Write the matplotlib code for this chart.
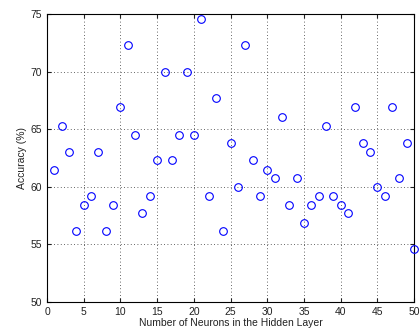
import numpy as np
import matplotlib.pyplot as plt

plt.rcParams['font.family'] = ['Liberation Sans', 'DejaVu Sans']

# liczba neuronow i dokladnosc
neurony = list(range(1, 51))
dokladnosc = [61.5, 65.3, 63.0, 56.2, 58.4, 59.2, 63.0, 56.2, 58.4, 66.9,
              72.3, 64.5, 57.7, 59.2, 62.3, 70.0, 62.3, 64.5, 70.0, 64.5,
              74.6, 59.2, 67.7, 56.2, 63.8, 60.0, 72.3, 62.3, 59.2, 61.5,
              60.8, 66.1, 58.4, 60.8, 56.9, 58.4, 59.2, 65.3, 59.2, 58.4,
              57.7, 66.9, 63.8, 63.0, 60.0, 59.2, 66.9, 60.8, 63.8, 54.6]
xticki = [0, 5, 10, 15, 20, 25, 30, 35, 40, 45, 50]
yticki = [50, 55, 60, 65, 70, 75]

fig = plt.figure(figsize=(4.2, 3.36), dpi=100)
ax = fig.add_axes([0.112, 0.101, 0.874, 0.857])
ax.plot(neurony, dokladnosc, 'o', mfc='none', mec='blue', ms=5.5, mew=0.8, clip_on=False, zorder=3)

ax.set_xlim(0, 50)
ax.set_ylim(50, 75)
ax.set_xticks(xticki)
ax.set_yticks(yticki)
ax.tick_params(direction='in', labelsize=7.5, length=3, top=True, right=True, colors='#222222')
ax.grid(True, linestyle=(0, (1, 3)), color='#333333', linewidth=0.6)
ax.set_xlabel("Number of Neurons in the Hidden Layer", fontsize=7.5, labelpad=1, color='#222222')
ax.set_ylabel("Accuracy (%)", fontsize=7.5, labelpad=3, color='#222222')
for s in ax.spines.values():
    s.set_linewidth(0.8)

plt.savefig("out.png", dpi=100)
